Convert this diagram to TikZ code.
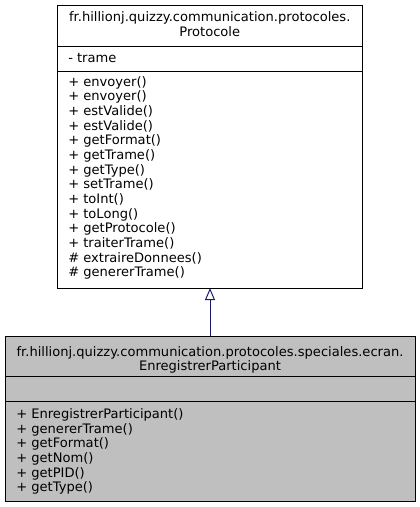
\documentclass[tikz,border=0pt]{standalone}
\usepackage{fontspec}
\setmainfont{DejaVu Sans}
\usetikzlibrary{arrows.meta}
\definecolor{boxgray}{HTML}{BFBFBF}
\definecolor{edgeblue}{HTML}{191970}
\begin{document}
\begin{tikzpicture}[x=0.75pt,y=-0.75pt,
  classbox/.style={draw=black,line width=0.75pt,anchor=north west,inner sep=0pt,outer sep=0pt},
  txt/.style={inner sep=0pt,font=\fontsize{9.8}{11}\selectfont},
  mlist/.style={txt,anchor=north west,align=left},
  sep/.style={line width=0.75pt}]
\useasboundingbox (0,0) rectangle (420,507);
% top class
\node[classbox,fill=white,minimum width=228.75pt,minimum height=212.25pt] (p) at (57.5,5) {};
\draw[sep] (57.5,46) -- (362,46);
\draw[sep] (57.5,71) -- (362,71);
\node[txt,anchor=base,align=center] (ph) at (209.75,36.2) {fr.hillionj.quizzy.communication.protocoles.\\Protocole};
\node[txt,anchor=base west] (pa) at (68,62) {- trame};
\node[mlist] (pm) at (68,75.7) {\strut+ envoyer()\\+ envoyer()\\+ estValide()\\+ estValide()\\+ getFormat()\\+ getTrame()\\+ getType()\\+ setTrame()\\+ toInt()\\+ toLong()\\+ getProtocole()\\+ traiterTrame()\\\# extraireDonnees()\\\# genererTrame()};
% bottom class
\node[classbox,fill=boxgray,minimum width=307.5pt,minimum height=123.75pt] (e) at (5,336) {};
\draw[sep] (5,376.5) -- (415,376.5);
\draw[sep] (5,401.5) -- (415,401.5);
\node[txt,anchor=base,align=center] (eh) at (210,370.7) {fr.hillionj.quizzy.communication.protocoles.speciales.ecran.\\EnregistrerParticipant};
\node[mlist] (em) at (16,408) {\strut+ EnregistrerParticipant()\\+ genererTrame()\\+ getFormat()\\+ getNom()\\+ getPID()\\+ getType()};
% inheritance
\draw[edgeblue,line width=0.75pt,-{Triangle[open,width=7.5pt,length=9pt]}] (e.north) -- (p.south);
\end{tikzpicture}
\end{document}
